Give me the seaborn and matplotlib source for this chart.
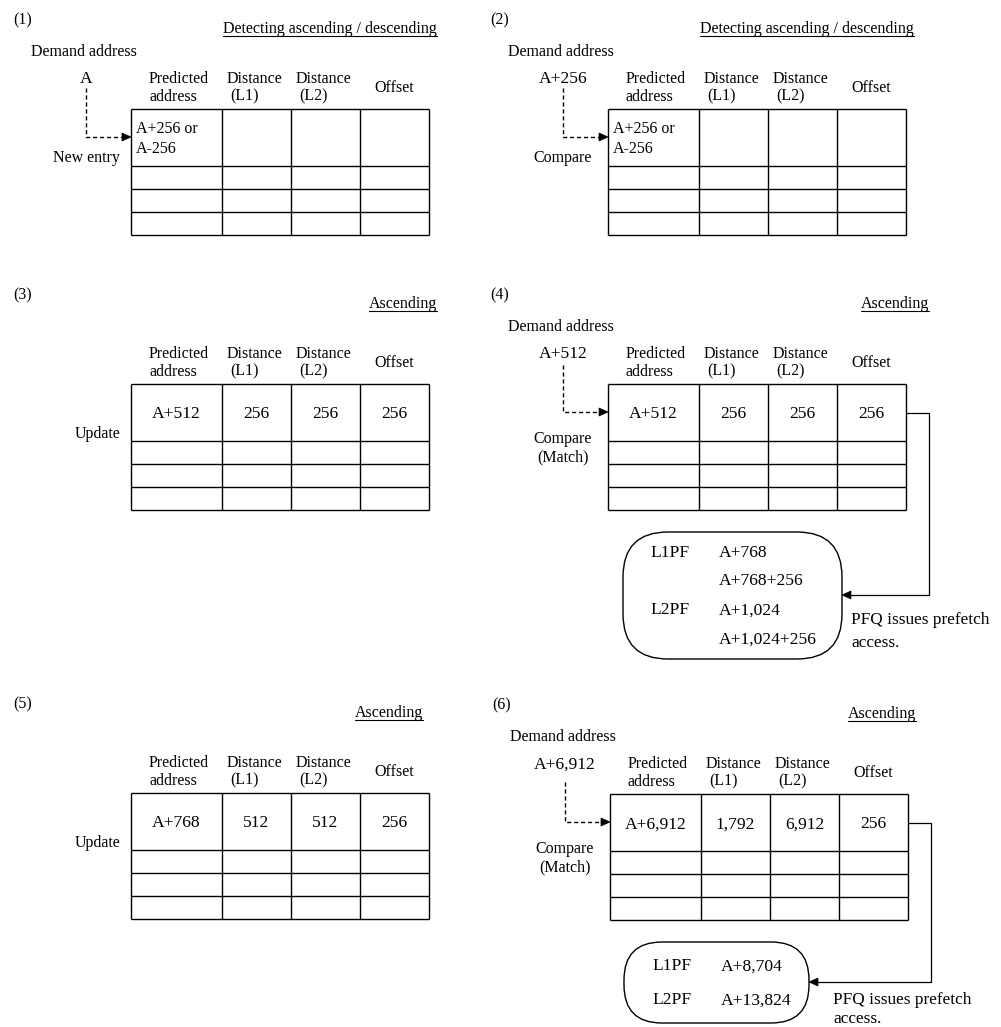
import matplotlib
matplotlib.use("Agg")
import matplotlib.pyplot as plt
from matplotlib.patches import FancyBboxPatch, Polygon
import seaborn as sns

sns.set_theme(style="white")
plt.rcParams['font.family'] = ['Liberation Serif', 'DejaVu Serif']

# ---------------- data ----------------
PANEL_LABELS = ["(1)", "(2)", "(3)", "(4)", "(5)", "(6)"]
MODES = ["Detecting ascending / descending", "Detecting ascending / descending",
         "Ascending", "Ascending", "Ascending", "Ascending"]
DEMAND_ADDRESSES = ["A", "A+256", None, "A+512", None, "A+6,912"]
ACTIONS = ["New entry", "Compare", "Update", "Compare\n(Match)", "Update", "Compare\n(Match)"]
HEADER_TOP = ["Predicted", "Distance", "Distance"]
HEADER_BOTTOM = ["address", "(L1)", "(L2)"]
HEADER_SINGLE = "Offset"
PREDICTED = ["A+256 or\nA-256", "A+256 or\nA-256", "A+512", "A+512", "A+768", "A+6,912"]
DIST_L1 = ["", "", "256", "256", "512", "1,792"]
DIST_L2 = ["", "", "256", "256", "512", "6,912"]
OFFSET = ["", "", "256", "256", "256", "256"]
PF_KIND_4 = ["L1PF", "", "L2PF", ""]
PF_ADDR_4 = ["A+768", "A+768+256", "A+1,024", "A+1,024+256"]
PF_KIND_6 = ["L1PF", "L2PF"]
PF_ADDR_6 = ["A+8,704", "A+13,824"]
PFQ_NOTE = ["PFQ issues prefetch", "access."]

# ---------------- layout ----------------
W, H = 1001, 1027
fig = plt.figure(figsize=(W / 100, H / 100), dpi=100)
ax = fig.add_axes([0, 0, 1, 1])
ax.set_xlim(0, W)
ax.set_ylim(H, 0)
ax.axis("off")

PT = 0.72  # points per pixel at 100 dpi
ORIGINS = [(131, 109), (608, 109), (131, 384), (608, 384), (131, 793), (610, 794)]
MODE_RIGHT = [437, 914, 437, 929, 423, 916]
DASH_TOP = [-21, -21, None, -19, None, -12]
COL_W = [91, 69, 69, 69]
ROW_H = [57, 23, 23, 23]
LW = 1.0


def txt(x, yc, s, size_px, ha="left"):
    return ax.text(x, yc + 0.3 * size_px, s, fontsize=size_px * PT, ha=ha,
                   va="baseline", color="black")


def arrow_head(tip_x, tip_y, direction=1, length=9, half=4):
    # direction=1: pointing right; -1: pointing left
    pts = [(tip_x, tip_y), (tip_x - direction * length, tip_y - half),
           (tip_x - direction * length, tip_y + half)]
    ax.add_patch(Polygon(pts, closed=True, facecolor="black", edgecolor="black", lw=0.5))


mode_texts = []
for i in range(6):
    x0, y0 = ORIGINS[i]
    txt(x0 - 118, y0 - 89, PANEL_LABELS[i], 16)
    t = ax.text(MODE_RIGHT[i], y0 - 76, MODES[i], fontsize=16 * PT, ha="right",
                va="baseline", color="black")
    mode_texts.append((t, y0 - 73.5))

    # demand address + dashed arrow
    if DEMAND_ADDRESSES[i] is not None:
        txt(x0 - 100, y0 - 58, "Demand address", 16)
        txt(x0 - 45, y0 - 31, DEMAND_ADDRESSES[i], 17.5, ha="center")
        ax.plot([x0 - 45, x0 - 45, x0 - 9], [y0 + DASH_TOP[i], y0 + 28, y0 + 28],
                color="black", lw=1.0, ls=(0, (3, 2)), solid_capstyle="butt")
        arrow_head(x0, y0 + 28, 1)

    # action label
    act = ACTIONS[i]
    if act == "Update":
        txt(x0 - 11, y0 + 49, act, 16, ha="right")
    elif "\n" in act:
        a1, a2 = act.split("\n")
        txt(x0 - 45, y0 + 54, a1, 16, ha="center")
        txt(x0 - 45, y0 + 73, a2, 16, ha="center")
    else:
        txt(x0 - 45, y0 + 48, act, 16, ha="center")

    # headers
    xs = [x0]
    for w in COL_W:
        xs.append(xs[-1] + w)
    txt(x0 + 18, y0 - 31, HEADER_TOP[0], 16)
    txt(x0 + 18, y0 - 13, HEADER_BOTTOM[0], 16)
    txt(xs[1] + 5, y0 - 31, HEADER_TOP[1], 16)
    txt(xs[1] + 8, y0 - 13, HEADER_BOTTOM[1], 16)
    txt(xs[2] + 5, y0 - 31, HEADER_TOP[2], 16)
    txt(xs[2] + 8, y0 - 13, HEADER_BOTTOM[2], 16)
    txt((xs[3] + xs[4]) / 2, y0 - 22, HEADER_SINGLE, 16, ha="center")

    # table grid
    ys = [y0]
    for h in ROW_H:
        ys.append(ys[-1] + h)
    ax.hlines(ys, xs[0], xs[-1], colors="black", lw=LW)
    ax.vlines(xs, ys[0], ys[-1], colors="black", lw=LW)

    # first-row entries
    pred = PREDICTED[i]
    if "\n" in pred:
        p1, p2 = pred.split("\n")
        txt(x0 + 5, y0 + 19, p1, 16)
        txt(x0 + 5, y0 + 39, p2, 16)
    else:
        txt((xs[0] + xs[1]) / 2, y0 + 29, pred, 17.5, ha="center")
    for j, val in enumerate([DIST_L1[i], DIST_L2[i], OFFSET[i]]):
        if val:
            txt((xs[j + 1] + xs[j + 2]) / 2, y0 + 29, val, 17.5, ha="center")


def prefetch_block(x0, y0, box, kinds, addrs, row_offsets, arrow_y, conn_x, note_xy):
    bx, by, bw, bh, r = box
    ax.add_patch(FancyBboxPatch((x0 + bx, y0 + by), bw, bh,
                                boxstyle=f"round,pad=0,rounding_size={r}",
                                facecolor="none", edgecolor="black", lw=LW))
    for k, a, dy in zip(kinds, addrs, row_offsets):
        if k:
            txt(x0 + 42, y0 + dy, k, 17.5)
        txt(x0 + 111, y0 + dy, a, 17.5)
    right = x0 + 298
    box_right = x0 + bx + bw
    ax.plot([right, x0 + conn_x, x0 + conn_x, box_right + 9],
            [y0 + 29, y0 + 29, y0 + arrow_y, y0 + arrow_y],
            color="black", lw=0.9)
    arrow_head(box_right, y0 + arrow_y, -1)
    nx, ny1, ny2 = note_xy
    txt(x0 + nx, y0 + ny1, PFQ_NOTE[0], 17.2)
    txt(x0 + nx, y0 + ny2, PFQ_NOTE[1], 17.2)


x4, y4 = ORIGINS[3]
prefetch_block(x4, y4, (15, 148, 219, 127, 45), PF_KIND_4, PF_ADDR_4,
               [168, 196, 225, 254], 211, 321, (243, 235, 258))
x6, y6 = ORIGINS[5]
prefetch_block(x6, y6, (14, 148, 185, 81, 38), PF_KIND_6, PF_ADDR_6,
               [171, 205], 188, 321, (223, 205, 224))

# underline the mode titles
fig.canvas.draw()
inv = ax.transData.inverted()
for t, uy in mode_texts:
    bb = t.get_window_extent()
    (xa, _), (xb, _) = inv.transform([(bb.x0, bb.y0), (bb.x1, bb.y0)])
    ax.plot([xa, xb], [uy, uy], color="black", lw=0.8)

fig.savefig("out.png", dpi=100)
